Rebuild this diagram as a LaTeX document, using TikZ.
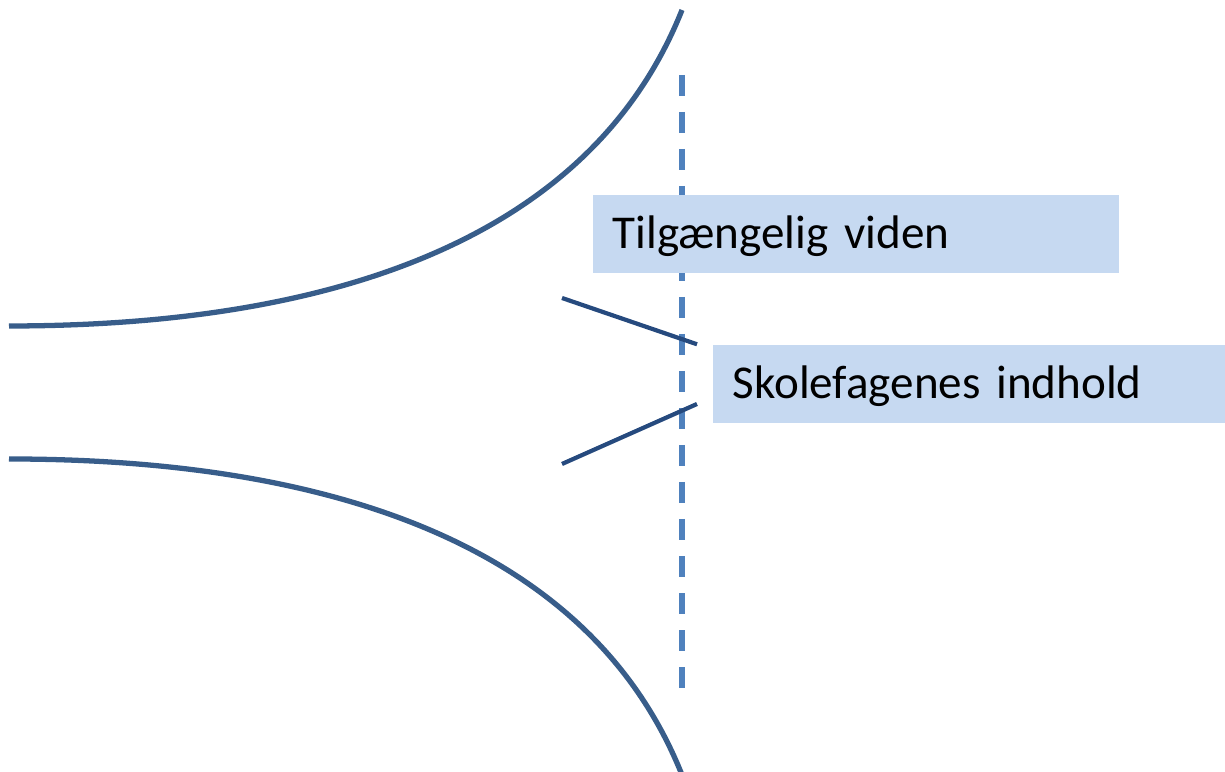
\documentclass[tikz,border=0pt]{standalone}
\usepackage{fontspec}
\setmainfont{Carlito}
\usepackage{tikz}
\usetikzlibrary{positioning, calc}
\definecolor{funnelblue}{RGB}{56,93,138}
\definecolor{lineblue}{RGB}{38,74,126}
\definecolor{dashblue}{RGB}{79,129,189}
\definecolor{boxblue}{RGB}{198,217,241}

\begin{document}
\begin{tikzpicture}[scale=1,
    funnel/.style={line width=1.5pt, funnelblue},
    pointer/.style={line width=1.2pt, lineblue},
    infobox/.style={fill=boxblue, anchor=west, minimum height=0.78cm, inner xsep=0.2cm, inner ysep=0pt, text height=0.40cm, text depth=0.10cm, font=\fontsize{13.4}{15}\selectfont}]
    \useasboundingbox (0,0) rectangle (12.25,7.72);
    \draw[funnel] (0.09,4.46) .. controls (3.09,4.46) and (5.86,5.21) .. (6.82,7.62);
    \draw[funnel] (0.09,3.13) .. controls (3.09,3.13) and (5.86,2.38) .. (6.82,-0.03);
    \draw[dashblue, line width=1.5pt, dash pattern=on 0.21cm off 0.16cm] (6.82,6.97)--(6.82,0.82);
    \node[infobox, text width=4.86cm] (tilg) at (5.92,5.38) {Tilgængelig viden};
    \node[infobox, text width=4.73cm] (skole) at (7.12,3.88) {Skolefagenes indhold};
    \coordinate (p1) at (5.62,4.74);
    \coordinate (p2) at (5.62,3.08);
    \draw[pointer] (p1) -- ($(skole.north west)+(-0.15,0)$);
    \draw[pointer] (p2) -- ($(skole.west)+(-0.15,-0.2)$);
\end{tikzpicture}
\end{document}
